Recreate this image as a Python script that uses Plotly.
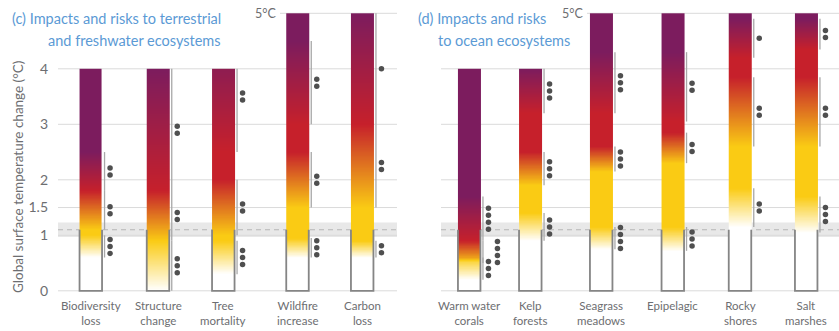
import numpy as np
import plotly.graph_objects as go

# ---------------------------------------------------------------------------
# Burning-ember data. Each transition is (start °C, end °C, confidence dots):
#   t1 = undetectable -> moderate, t2 = moderate -> high, t3 = high -> very high
# ---------------------------------------------------------------------------
land_labels = ["Biodiversity<br>loss", "Structure<br>change", "Tree<br>mortality",
               "Wildfire<br>increase", "Carbon<br>loss"]
land_top = [4, 4, 4, 5, 5]
land_t1 = [(0.6, 1.0, 3), (0.0, 0.9, 3), (0.3, 0.9, 3), (0.6, 0.95, 3), (0.6, 0.9, 2)]
land_t2 = [(1.1, 1.8, 2), (0.9, 1.8, 2), (1.0, 2.0, 2), (1.5, 2.5, 2), (1.5, 3.0, 2)]
land_t3 = [(1.8, 2.5, 2), (1.8, 4.0, 2), (2.5, 4.5, 2), (3.0, 4.5, 2), (3.0, 5.0, 1)]

ocean_labels = ["Warm water<br>corals", "Kelp<br>forests", "Seagrass<br>meadows",
                "Epipelagic", "Rocky<br>shores", "Salt<br>marshes"]
ocean_top = [4, 4, 5, 5, 5, 5]
ocean_t1 = [(0.2, 0.6, 3), (0.9, 1.4, 3), (0.75, 1.15, 4), (0.72, 1.15, 3), (1.15, 1.85, 2), (1.05, 1.7, 3)]
ocean_t2 = [(0.5, 0.9, 4), (1.9, 2.5, 3), (2.15, 2.6, 3), (2.3, 2.85, 2), (2.6, 3.85, 2), (2.6, 3.85, 2)]
ocean_t3 = [(0.9, 1.7, 4), (3.2, 4.0, 3), (3.2, 4.3, 3), (3.05, 4.3, 2), (4.2, 4.9, 1), (4.35, 4.9, 2)]

y_ticks = [0, 1, 1.5, 2, 3, 4]
y_tick_text = ["0", "1", "1.5", "2", "3", "4"]
recent_warming = 1.1
recent_range = (0.97, 1.23)

# ---------------------------------------------------------------------------
# Layout constants
# ---------------------------------------------------------------------------
W, H = 839, 331
M_L, M_B, M_T = 58, 30, 0
PX_PER_DEG = 55.5
ZERO_PX = 290.8
plot_h = H - M_T - M_B
plot_w = W - M_L
y_top = ZERO_PX / PX_PER_DEG
y_bottom = (ZERO_PX - plot_h) / PX_PER_DEG

land_x = [90.8, 158.0, 223.3, 297.5, 362.2]
ocean_x = [469.2, 530.3, 601.2, 672.8, 740.0, 806.2]
panels = [(58, 397), (441, 839)]
five_start = [280, 587]
BAR_W = 22.5

FONT = "Lato, Roboto, sans-serif"
GREY_TXT = "#6d6e71"
EMBER_SCALE = [[0.0, "#ffffff"], [1 / 3, "#facb14"], [2 / 3, "#c6202b"], [1.0, "#7c1c5e"]]


def py_to_y(py):
    return (ZERO_PX - py) / PX_PER_DEG


fig = go.Figure()
shapes = []
for (x0, x1), fs in zip(panels, five_start):
    shapes.append(dict(type="rect", xref="x", yref="y", x0=x0, x1=x1,
                       y0=recent_range[0], y1=recent_range[1],
                       fillcolor="#e8e8e8", line_width=0, layer="below"))
    for t in y_ticks:
        shapes.append(dict(type="line", xref="x", yref="y", x0=x0, x1=x1, y0=t, y1=t,
                           line=dict(color="#dadada", width=1), layer="below"))
    shapes.append(dict(type="line", xref="x", yref="y", x0=fs, x1=x1, y0=5, y1=5,
                       line=dict(color="#dadada", width=1), layer="below"))
    shapes.append(dict(type="line", xref="x", yref="y", x0=x0, x1=x1,
                       y0=recent_warming, y1=recent_warming,
                       line=dict(color="#b5b5b5", width=1.2, dash="5px,4px"), layer="below"))

DOT_PITCH = 7 / PX_PER_DEG
DOT_R = 2.6 / PX_PER_DEG

line_x, line_y = [], []
dot_x, dot_y = [], []
box_x, box_y = [], []

groups = [(land_x, land_top, land_t1, land_t2, land_t3),
          (ocean_x, ocean_top, ocean_t1, ocean_t2, ocean_t3)]
for xs, tops, t1s, t2s, t3s in groups:
    for xc, top, t1, t2, t3 in zip(xs, tops, t1s, t2s, t3s):
        left, right = xc - BAR_W / 2, xc + BAR_W / 2
        trans = [t1, t2, t3]

        # ember colour: risk level rises through each transition range
        edges = np.arange(0, top + 1e-9, 0.01)
        mids = (edges[:-1] + edges[1:]) / 2
        level = np.zeros_like(mids)
        for lo, hi, _ in trans:
            level += np.clip((mids - lo) / (hi - lo), 0, 1)
        fig.add_trace(go.Heatmap(
            x=[left, right], y=edges, z=level[:, None],
            zmin=0, zmax=3, colorscale=EMBER_SCALE, showscale=False,
            zsmooth=False, hoverinfo="skip"))

        # outlined pre-industrial to present box
        box_x += [left, left, right, right, None]
        box_y += [recent_warming, 0, 0, recent_warming, None]

        # transition ranges and confidence dots
        stacks = {0: [], 1: []}
        for lo, hi, n in trans:
            line_x += [right + 2.5, right + 2.5, None]
            line_y += [lo, min(hi, top), None]
            c = (lo + hi) / 2
            half = (n - 1) / 2 * DOT_PITCH + DOT_R
            col = 0
            if any(not (c - half > b1 or c + half < b0) for b0, b1 in stacks[0]):
                col = 1
            stacks[col].append((c - half, c + half))
            for k in range(n):
                dot_x.append(right + 8 + col * 9)
                dot_y.append(c + (k - (n - 1) / 2) * DOT_PITCH)

fig.add_trace(go.Scatter(x=box_x, y=box_y, mode="lines",
                         line=dict(color="#858585", width=1.8), hoverinfo="skip"))
fig.add_trace(go.Scatter(x=line_x, y=line_y, mode="lines",
                         line=dict(color="#a8a8a8", width=1.3), hoverinfo="skip"))
fig.add_trace(go.Scatter(x=dot_x, y=dot_y, mode="markers",
                         marker=dict(size=5.5, color="#4f4f4f"), hoverinfo="skip"))

annotations = []
for xs, labels in ((land_x, land_labels), (ocean_x, ocean_labels)):
    for xc, lab in zip(xs, labels):
        annotations.append(dict(x=xc, y=0, xref="x", yref="y", text=lab, showarrow=False,
                                xanchor="center", yanchor="top", yshift=-6,
                                font=dict(family=FONT, size=11.5, color=GREY_TXT)))

title_font = dict(family=FONT, size=14.5, color="#5b9ad5")
annotations += [
    dict(x=223, y=py_to_y(18), xref="x", yref="y", text="(c) Impacts and risks to terrestrial",
         showarrow=False, xanchor="right", yanchor="middle", font=title_font),
    dict(x=223, y=py_to_y(40), xref="x", yref="y", text="and freshwater ecosystems",
         showarrow=False, xanchor="right", yanchor="middle", font=title_font),
    dict(x=416, y=py_to_y(18), xref="x", yref="y", text="(d) Impacts and risks",
         showarrow=False, xanchor="left", yanchor="middle", font=title_font),
    dict(x=436, y=py_to_y(40), xref="x", yref="y", text="to ocean ecosystems",
         showarrow=False, xanchor="left", yanchor="middle", font=title_font),
    dict(x=278, y=5, xref="x", yref="y", text="5°C", showarrow=False,
         xanchor="right", yanchor="middle", font=dict(family=FONT, size=12.5, color=GREY_TXT)),
    dict(x=585, y=5, xref="x", yref="y", text="5°C", showarrow=False,
         xanchor="right", yanchor="middle", font=dict(family=FONT, size=12.5, color=GREY_TXT)),
    # axis title sits in the left margin, so place it in paper coordinates
    dict(x=(18 - M_L) / plot_w, y=py_to_y(177), xref="paper", yref="y",
         text="Global surface temperature change (°C)",
         showarrow=False, textangle=-90, xanchor="center", yanchor="middle",
         font=dict(family=FONT, size=13.5, color=GREY_TXT)),
]

fig.update_layout(
    width=W, height=H,
    margin=dict(l=M_L, r=0, t=M_T, b=M_B, pad=0),
    paper_bgcolor="white", plot_bgcolor="white",
    showlegend=False,
    shapes=shapes, annotations=annotations,
    xaxis=dict(range=[58, 839], visible=False, fixedrange=True),
    yaxis=dict(range=[y_bottom, y_top], tickvals=y_ticks, ticktext=y_tick_text,
               showgrid=False, zeroline=False, showline=False, ticks="",
               ticklabelstandoff=9,
               tickfont=dict(family=FONT, size=14, color=GREY_TXT), fixedrange=True),
)

fig.write_html("out.html")
